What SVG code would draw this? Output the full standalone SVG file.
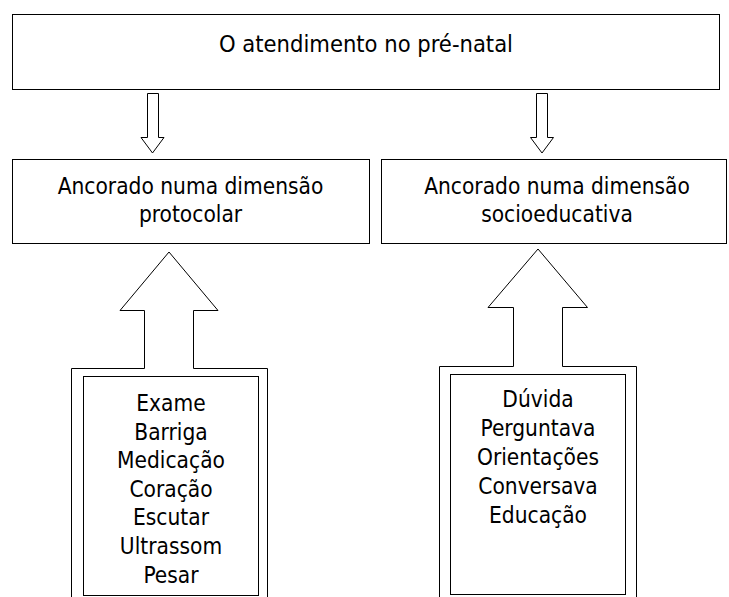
<svg xmlns="http://www.w3.org/2000/svg" width="729" height="597" viewBox="0 0 729 597">
<style>
.box{fill:#fff;stroke:#000;stroke-width:1}
.arr{fill:#fff;stroke:#000;stroke-width:1;stroke-linejoin:miter}
text{font-family:"DejaVu Sans Condensed","DejaVu Sans",sans-serif;font-size:22.5px;fill:#000;text-anchor:middle}
</style>
<rect width="729" height="597" fill="#fff"/>
<g id="top">
<rect class="box" x="12.5" y="14.5" width="707" height="75"/>
<text x="366" y="52" style="font-size:23.5px">O atendimento no pré-natal</text>
</g>
<g id="protocolar">
<rect class="box" x="12.5" y="159.5" width="357" height="84"/>
<text x="190.5" y="194">Ancorado numa dimensão</text>
<text x="190.5" y="222">protocolar</text>
</g>
<g id="socioeducativa">
<rect class="box" x="381.5" y="159.5" width="345" height="84"/>
<text x="557" y="194">Ancorado numa dimensão</text>
<text x="557" y="222">socioeducativa</text>
</g>
<g id="connectors">
<path class="arr" d="M147.5,93.5 H158.5 V137.5 H164 L152.5,153 L141,137.5 H147.5 Z"/>
<path class="arr" d="M536.5,93.5 H547.5 V137.5 H553.5 L542,153 L530.5,137.5 H536.5 Z"/>
<path class="arr" d="M71.5,598 V368.5 H144.5 V310.5 H120 L169,252 L218,310.5 H193.5 V368.5 H267.5 V598"/>
<path class="arr" d="M439.5,598 V366.5 H513.5 V307.5 H488 L538,249 L587.5,307.5 H562.5 V366.5 H636.5 V598"/>
</g>
<g id="protocolar-terms">
<rect class="box" x="83.5" y="376.5" width="175" height="219"/>
<text x="171" y="411">Exame</text>
<text x="171" y="439.5">Barriga</text>
<text x="171" y="468">Medicação</text>
<text x="171" y="496.5">Coração</text>
<text x="171" y="525">Escutar</text>
<text x="171" y="553.5">Ultrassom</text>
<text x="171" y="582.5">Pesar</text>
</g>
<g id="socioeducativa-terms">
<rect class="box" x="450.5" y="374.5" width="175" height="220"/>
<text x="538" y="407">Dúvida</text>
<text x="538" y="436">Perguntava</text>
<text x="538" y="465">Orientações</text>
<text x="538" y="494">Conversava</text>
<text x="538" y="523">Educação</text>
</g>
</svg>
